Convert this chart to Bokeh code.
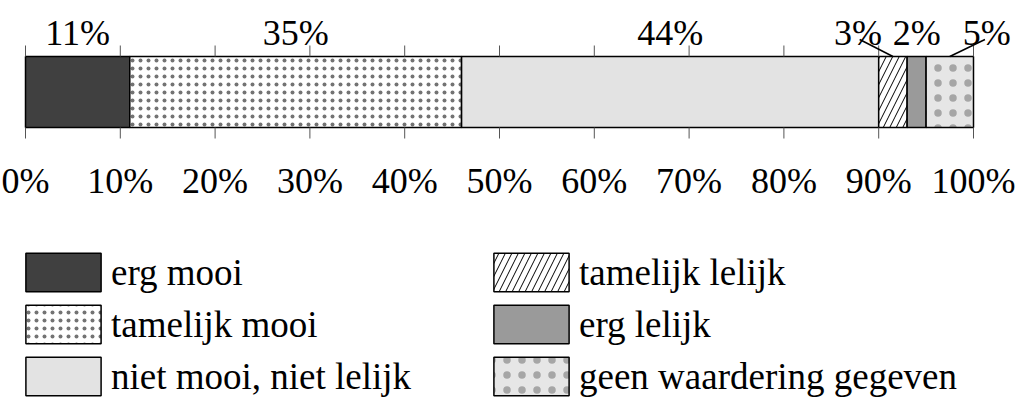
from bokeh.plotting import figure
from bokeh.models import ColumnDataSource, Range1d, Legend, LegendItem
from bokeh.core.properties import value
from bokeh.embed import file_html
from bokeh.resources import INLINE

# ---------------- data ----------------
categories = ["erg mooi", "tamelijk mooi", "niet mooi, niet lelijk",
              "tamelijk lelijk", "erg lelijk", "geen waardering gegeven"]
percentages = [11, 35, 44, 3, 2, 5]
bar_labels = ["11%", "35%", "44%", "3%", "2%", "5%"]
tick_values = [0, 10, 20, 30, 40, 50, 60, 70, 80, 90, 100]
tick_labels = ["0%", "10%", "20%", "30%", "40%", "50%", "60%", "70%", "80%", "90%", "100%"]

# ---------------- layout / style ----------------
W, H = 1017, 398
LEFT_PX, RIGHT_PX = 25, 973
PX = (RIGHT_PX - LEFT_PX) / 100.0
BAR_TOP, BAR_BOT = 56, 127
FONT = "'Liberation Serif', 'Times New Roman', serif"
FS = "36px"
LEG_FS = "37px"

styles = [
    dict(fill_color="#404040"),
    dict(fill_color="white", hatch_pattern="dot", hatch_color="black", hatch_alpha=0.55,
         hatch_scale=8, hatch_weight=0.5),
    dict(fill_color="#e3e3e3"),
    dict(fill_color="white", hatch_pattern="right_diagonal_line", hatch_color="black",
         hatch_scale=13, hatch_weight=1),
    dict(fill_color="#9a9a9a"),
    dict(fill_color="#e6e6e6", hatch_pattern="dot", hatch_color="#a6a6a6",
         hatch_scale=15, hatch_weight=4),
]
# label horizontal shift (px) for narrow segments
label_shift = [0, 0, 0, -35, 0, 37]
leader = [False, False, False, True, False, True]

p = figure(width=W, height=H, output_backend="svg", toolbar_location=None,
           x_range=Range1d(-LEFT_PX / PX, (W - LEFT_PX) / PX),
           y_range=Range1d(H, 0),
           x_axis_location=None, y_axis_location=None,
           min_border=0, outline_line_color=None)
p.grid.visible = False
p.background_fill_color = "white"

starts = []
acc = 0
for v in percentages:
    starts.append(acc)
    acc += v
ends = [s + v for s, v in zip(starts, percentages)]
mids = [(s + e) / 2 for s, e in zip(starts, ends)]

renderers = []
for i, cat in enumerate(categories):
    src = ColumnDataSource(dict(left=[starts[i]], right=[ends[i]], y=[(BAR_TOP + BAR_BOT) / 2]))
    r = p.hbar(y="y", left="left", right="right", height=BAR_BOT - BAR_TOP, source=src,
               line_color="black", line_width=1.5, **styles[i])
    renderers.append(r)

# tick marks above and below the bar
n = len(tick_values)
p.segment(x0=tick_values, x1=tick_values, y0=[45] * n, y1=[BAR_TOP] * n,
          line_color="#555555", line_width=1)
p.segment(x0=tick_values, x1=tick_values, y0=[BAR_BOT] * n, y1=[138] * n,
          line_color="#555555", line_width=1)

# tick labels
p.text(x=tick_values, y=[180] * n, text=tick_labels,
       text_font=value(FONT), text_font_size=FS, text_align="center",
       text_baseline="alphabetic", text_color="black")

# bar value labels
lab_x = [m + s / PX for m, s in zip(mids, label_shift)]
p.text(x=lab_x, y=[32] * len(lab_x), text=bar_labels,
       text_font=value(FONT), text_font_size=FS, text_align="center",
       text_baseline="alphabetic", text_color="black")

# leader lines
lx0 = [mids[i] for i in range(len(mids)) if leader[i]]
lx1 = [mids[i] + label_shift[i] * 0.95 / PX for i in range(len(mids)) if leader[i]]
p.segment(x0=lx0, x1=lx1, y0=[BAR_TOP] * len(lx0), y1=[39] * len(lx0), line_color="black", line_width=1.5)

# legend: Bokeh insets area glyphs by 10% inside the glyph box
SW_W, SW_H = 75, 38
GW, GH = SW_W / 0.8, SW_H / 0.8

def make_legend(items, x, y):
    return Legend(items=items, location=(x, y), orientation="vertical",
                  glyph_width=round(GW), glyph_height=round(GH), label_standoff=1, spacing=4,
                  label_text_font=FONT, label_text_font_size=LEG_FS, label_text_color="black",
                  border_line_color=None, background_fill_alpha=0, padding=0, margin=0)

leg1 = make_legend([LegendItem(label=categories[i], renderers=[renderers[i]]) for i in range(3)], 16, -2)
leg2 = make_legend([LegendItem(label=categories[i], renderers=[renderers[i]]) for i in range(3, 6)], 484, -2)
p.add_layout(leg1)
p.add_layout(leg2)

open("out.html", "w").write(file_html(p, INLINE))
